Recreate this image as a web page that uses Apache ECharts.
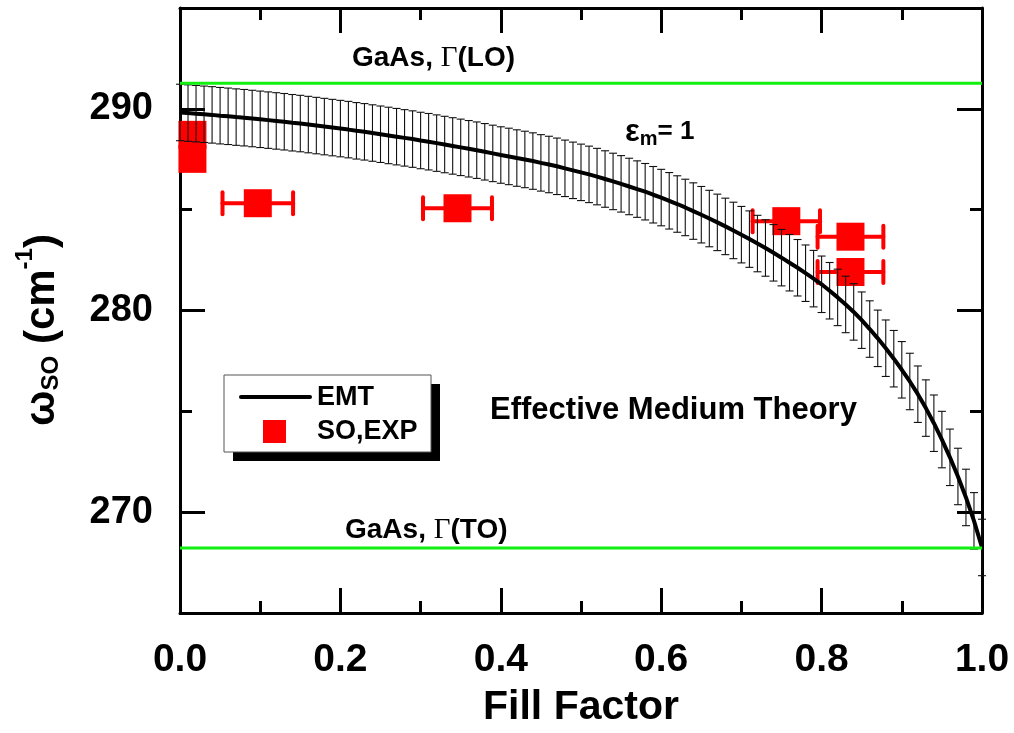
<!DOCTYPE html>
<html>
<head>
<meta charset="utf-8">
<script src="https://cdn.jsdelivr.net/npm/echarts@6/dist/echarts.min.js"></script>
<style>
  html, body { margin: 0; padding: 0; background: #ffffff; }
  #chart { width: 1014px; height: 733px; }
</style>
</head>
<body>
<div id="chart"></div>
<script>
// ---- data -------------------------------------------------------------
// Effective-medium-theory curve (eps_m = 1): fill factor and SO frequency (cm^-1)
const EMT_FILL = [
  0.00, 0.01, 0.02, 0.03, 0.04, 0.05, 0.06, 0.07, 0.08, 0.09,
  0.10, 0.11, 0.12, 0.13, 0.14, 0.15, 0.16, 0.17, 0.18, 0.19,
  0.20, 0.21, 0.22, 0.23, 0.24, 0.25, 0.26, 0.27, 0.28, 0.29,
  0.30, 0.31, 0.32, 0.33, 0.34, 0.35, 0.36, 0.37, 0.38, 0.39,
  0.40, 0.41, 0.42, 0.43, 0.44, 0.45, 0.46, 0.47, 0.48, 0.49,
  0.50, 0.51, 0.52, 0.53, 0.54, 0.55, 0.56, 0.57, 0.58, 0.59,
  0.60, 0.61, 0.62, 0.63, 0.64, 0.65, 0.66, 0.67, 0.68, 0.69,
  0.70, 0.71, 0.72, 0.73, 0.74, 0.75, 0.76, 0.77, 0.78, 0.79,
  0.80, 0.81, 0.82, 0.83, 0.84, 0.85, 0.86, 0.87, 0.88, 0.89,
  0.90, 0.91, 0.92, 0.93, 0.94, 0.95, 0.96, 0.97, 0.98, 0.99,
  1.00
];
const EMT_OMEGA = [
  289.82, 289.79, 289.76, 289.73, 289.70, 289.66, 289.63, 289.59, 289.56, 289.52,
  289.48, 289.44, 289.40, 289.36, 289.31, 289.27, 289.22, 289.17, 289.12, 289.07,
  289.02, 288.97, 288.91, 288.86, 288.80, 288.74, 288.68, 288.62, 288.56, 288.50,
  288.43, 288.37, 288.30, 288.23, 288.16, 288.09, 288.02, 287.95, 287.87, 287.79,
  287.71, 287.64, 287.56, 287.49, 287.41, 287.32, 287.24, 287.15, 287.05, 286.95,
  286.85, 286.75, 286.64, 286.52, 286.40, 286.28, 286.15, 286.02, 285.89, 285.74,
  285.60, 285.44, 285.28, 285.11, 284.93, 284.75, 284.56, 284.37, 284.17, 283.97,
  283.76, 283.54, 283.32, 283.10, 282.86, 282.62, 282.37, 282.12, 281.85, 281.58,
  281.30, 280.98, 280.65, 280.30, 279.93, 279.52, 279.08, 278.62, 278.13, 277.61,
  277.06, 276.48, 275.85, 275.16, 274.41, 273.60, 272.72, 271.77, 270.73, 269.57,
  268.25
];
// uncertainty (half height of each error bar), cm^-1
const EMT_ERR = 1.4;

// Measured surface-optical phonon positions
const SO_FILL     = [0.0155, 0.0155, 0.097, 0.346, 0.756, 0.836, 0.836];
const SO_OMEGA    = [288.71, 287.52, 285.32, 285.07, 284.43, 283.66, 281.91];
const SO_FILL_ERR = [0.014, 0.014, 0.044, 0.043, 0.042, 0.041, 0.041];

// Bulk GaAs zone-centre phonons
const GAAS_LO = 291.27;
const GAAS_TO = 268.22;

// Axis ticks
const Y_MAJOR = [270, 280, 290];
const X_RANGE = [0, 1];
const Y_RANGE = [265, 295];

// ---- chart ------------------------------------------------------------
const SANS = '"Liberation Sans", Arial, sans-serif';
const SERIF = '"Liberation Serif", "Times New Roman", serif';

const chart = echarts.init(document.getElementById('chart'), null, { renderer: 'canvas' });

const emtData = EMT_FILL.map((f, i) => [f, EMT_OMEGA[i], EMT_ERR]);
const soData = SO_FILL.map((f, i) => [f, SO_OMEGA[i], SO_FILL_ERR[i]]);

// vertical error bar with short caps for every EMT point
function emtErrorBar(params, api) {
  const x = api.value(0), y = api.value(1), e = api.value(2);
  const top = api.coord([x, y + e]);
  const bot = api.coord([x, y - e]);
  const hw = 4;
  const st = { stroke: '#111111', lineWidth: 1.1 };
  return {
    type: 'group',
    children: [
      { type: 'line', shape: { x1: top[0], y1: top[1], x2: bot[0], y2: bot[1] }, style: st },
      { type: 'line', shape: { x1: top[0] - hw, y1: top[1], x2: top[0] + hw, y2: top[1] }, style: st },
      { type: 'line', shape: { x1: bot[0] - hw, y1: bot[1], x2: bot[0] + hw, y2: bot[1] }, style: st }
    ]
  };
}

// horizontal (fill factor) error bar for each measured point
function soErrorBar(params, api) {
  const x = api.value(0), y = api.value(1), e = api.value(2);
  const l = api.coord([x - e, y]);
  const r = api.coord([x + e, y]);
  const h = 11;
  const st = { stroke: '#ff0000', lineWidth: 4, lineCap: 'round' };
  return {
    type: 'group',
    children: [
      { type: 'line', shape: { x1: l[0], y1: l[1], x2: r[0], y2: r[1] }, style: st },
      { type: 'line', shape: { x1: l[0], y1: l[1] - h, x2: l[0], y2: l[1] + h }, style: st },
      { type: 'line', shape: { x1: r[0], y1: r[1] - h, x2: r[0], y2: r[1] + h }, style: st }
    ]
  };
}

const axisLine = { show: true, lineStyle: { color: '#000', width: 3 } };

function xAxisDef(pos, withLabels) {
  return {
    type: 'value', position: pos, min: X_RANGE[0], max: X_RANGE[1], interval: 0.2,
    axisLine: axisLine,
    axisTick: { show: true, inside: true, length: 25, lineStyle: { color: '#000', width: 3 } },
    minorTick: { show: true, splitNumber: 2, length: 12, lineStyle: { color: '#000', width: 3 } },
    splitLine: { show: false },
    axisLabel: withLabels ? {
      show: true, margin: 28, color: '#000', fontFamily: SANS, fontWeight: 'bold', fontSize: 39,
      formatter: v => v.toFixed(1)
    } : { show: false },
    name: withLabels ? 'Fill Factor' : '',
    nameLocation: 'middle', nameGap: 74,
    nameTextStyle: { color: '#000', fontFamily: SANS, fontWeight: 'bold', fontSize: 41 }
  };
}

function yMinorAxis(pos) {
  return {
    type: 'value', position: pos, min: Y_RANGE[0], max: Y_RANGE[1], interval: 5,
    axisLine: axisLine,
    axisTick: { show: true, inside: true, length: 12, lineStyle: { color: '#000', width: 3 } },
    splitLine: { show: false },
    axisLabel: { show: false }
  };
}

function yMajorAxis(pos, withLabels) {
  return {
    type: 'value', position: pos, min: Y_RANGE[0], max: Y_RANGE[1],
    axisLine: { show: false },
    axisTick: { show: true, inside: true, length: 25, customValues: Y_MAJOR, lineStyle: { color: '#000', width: 3 } },
    splitLine: { show: false },
    axisLabel: withLabels ? {
      show: true, customValues: Y_MAJOR, margin: 27, color: '#000',
      fontFamily: SANS, fontWeight: 'bold', fontSize: 38
    } : { show: false }
  };
}

const option = {
  backgroundColor: '#ffffff',
  animation: false,
  grid: { left: 180, top: 8, width: 802, height: 606, containLabel: false },
  xAxis: [xAxisDef('bottom', true), xAxisDef('top', false)],
  yAxis: [yMinorAxis('left'), yMajorAxis('left', true), yMinorAxis('right'), yMajorAxis('right', false)],
  series: [
    {
      name: 'SO,EXP error', type: 'custom', renderItem: soErrorBar,
      data: soData, encode: { x: 0, y: 1 }, z: 2, silent: true
    },
    {
      name: 'SO,EXP', type: 'scatter', data: soData.map(d => [d[0], d[1]]),
      symbol: 'rect', symbolSize: 28, itemStyle: { color: '#ff0000', opacity: 1 }, z: 2, silent: true
    },
    {
      name: 'EMT error', type: 'custom', renderItem: emtErrorBar,
      data: emtData, encode: { x: 0, y: 1 }, z: 3, silent: true
    },
    {
      name: 'EMT', type: 'line', data: emtData.map(d => [d[0], d[1]]),
      showSymbol: false, symbol: 'none', lineStyle: { color: '#000', width: 4 }, z: 4, silent: true
    },
    {
      name: 'GaAs LO', type: 'line', data: [[X_RANGE[0], GAAS_LO], [X_RANGE[1], GAAS_LO]],
      symbol: 'none', lineStyle: { color: '#11f011', width: 3 }, z: 5, silent: true
    },
    {
      name: 'GaAs TO', type: 'line', data: [[X_RANGE[0], GAAS_TO], [X_RANGE[1], GAAS_TO]],
      symbol: 'none', lineStyle: { color: '#11f011', width: 3 }, z: 5, silent: true
    }
  ],
  graphic: [
    // y-axis title, reading bottom to top
    {
      type: 'text', x: 38, y: 330, rotation: Math.PI / 2, z: 10,
      style: {
        text: '{w|ω}{sub|SO}{n| (cm}{sup|-1}{n|)}', align: 'center', verticalAlign: 'middle',
        rich: {
          w:   { fontSize: 42, fontWeight: 'bold', fontFamily: SANS, fill: '#000', lineHeight: 50, verticalAlign: 'bottom' },
          n:   { fontSize: 42, fontWeight: 'bold', fontFamily: SANS, fill: '#000', lineHeight: 50, verticalAlign: 'bottom' },
          sub: { fontSize: 24, fontWeight: 'bold', fontFamily: SANS, fill: '#000', lineHeight: 26, verticalAlign: 'bottom' },
          sup: { fontSize: 24, fontWeight: 'bold', fontFamily: SANS, fill: '#000', lineHeight: 26, verticalAlign: 'top' }
        }
      }
    },
    // phonon line labels
    {
      type: 'text', x: 352, y: 58, z: 10,
      style: {
        text: '{a|GaAs, }{g|Γ}{a|(LO)}', verticalAlign: 'middle', align: 'left',
        rich: {
          a: { fontFamily: SANS, fontWeight: 'bold', fontSize: 28, fill: '#000' },
          g: { fontFamily: SERIF, fontSize: 29, fill: '#000' }
        }
      }
    },
    {
      type: 'text', x: 345, y: 530, z: 10,
      style: {
        text: '{a|GaAs, }{g|Γ}{a|(TO)}', verticalAlign: 'middle', align: 'left',
        rich: {
          a: { fontFamily: SANS, fontWeight: 'bold', fontSize: 28, fill: '#000' },
          g: { fontFamily: SERIF, fontSize: 29, fill: '#000' }
        }
      }
    },
    {
      type: 'text', x: 625, y: 132, z: 10,
      style: {
        text: '{e|ε}{m|m}{t|= 1}', verticalAlign: 'middle', align: 'left',
        rich: {
          e: { fontFamily: SANS, fontWeight: 'bold', fontSize: 31, fill: '#000', lineHeight: 34, verticalAlign: 'middle' },
          m: { fontFamily: SANS, fontWeight: 'bold', fontSize: 20, fill: '#000', lineHeight: 22, verticalAlign: 'bottom' },
          t: { fontFamily: SANS, fontWeight: 'bold', fontSize: 26, fill: '#000', lineHeight: 34, verticalAlign: 'middle' }
        }
      }
    },
    {
      type: 'text', x: 490, y: 410, z: 10,
      style: {
        text: 'Effective Medium Theory', verticalAlign: 'middle', align: 'left',
        fontFamily: SANS, fontWeight: 'bold', fontSize: 31, fill: '#000'
      }
    },
    // legend box with drop shadow
    {
      type: 'group', z: 20,
      children: [
        { type: 'rect', shape: { x: 233, y: 384, width: 207, height: 77 }, style: { fill: '#000' } },
        { type: 'rect', shape: { x: 224, y: 375, width: 207, height: 77 }, style: { fill: '#fff', stroke: '#555', lineWidth: 1 } },
        { type: 'line', shape: { x1: 241, y1: 397, x2: 310, y2: 397 }, style: { stroke: '#000', lineWidth: 4, lineCap: 'round' } },
        { type: 'text', x: 317, y: 398, style: { text: 'EMT', verticalAlign: 'middle', fontFamily: SANS, fontWeight: 'bold', fontSize: 27, fill: '#000' } },
        { type: 'rect', shape: { x: 263, y: 420, width: 23, height: 23 }, style: { fill: '#ff0000' } },
        { type: 'text', x: 317, y: 432, style: { text: 'SO,EXP', verticalAlign: 'middle', fontFamily: SANS, fontWeight: 'bold', fontSize: 27, fill: '#000' } }
      ]
    }
  ]
};

chart.setOption(option);
</script>
</body>
</html>
